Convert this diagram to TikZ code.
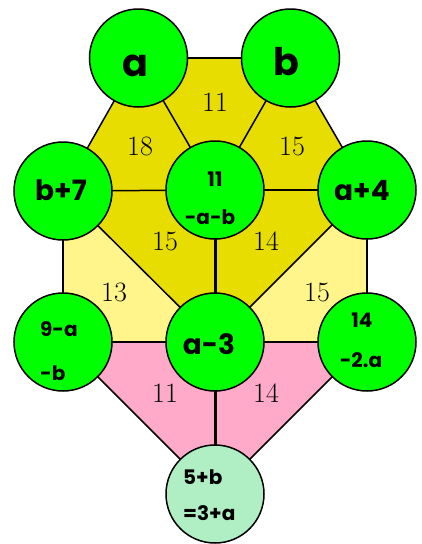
\documentclass[tikz,border=0pt]{standalone}
\usepackage{fontspec}
\newfontfamily\hand{Poppins}
\definecolor{dkyel}{HTML}{E8DD00}
\definecolor{ltyel}{HTML}{FFF58A}
\definecolor{pinkr}{HTML}{FFAAC8}
\definecolor{vgreen}{HTML}{00FF00}
\definecolor{ltgreen}{HTML}{B0EEC4}
\pgfdeclarelayer{bg}
\pgfdeclarelayer{ln}
\pgfsetlayers{bg,ln,main}
\begin{document}
\begin{tikzpicture}[x=1pt,y=-1pt,
  disc/.style={circle,draw=black,line width=1.5pt,fill=vgreen,minimum size=98pt,inner sep=0pt},
  edge/.style={line width=1.5pt},
  bold edge/.style={line width=3pt},
  num/.style={font=\fontsize{28}{30}\selectfont,inner sep=0pt},
  big/.style={font=\hand\bfseries\fontsize{38}{40}\selectfont,inner sep=0pt},
  mid/.style={font=\hand\bfseries\fontsize{28}{30}\selectfont,inner sep=0pt},
  small/.style={font=\hand\bfseries\fontsize{20}{22}\selectfont,inner sep=0pt}]
\useasboundingbox (0,0) rectangle (422,544);
% circles
\node[disc] (A) at (138.5,58) {};
\node[disc] (B) at (290.5,58) {};
\node[disc] (B7) at (63,191) {};
\node[disc] (C) at (215,190) {};
\node[disc] (A4) at (367,190) {};
\node[disc] (L) at (63,342) {};
\node[disc] (M) at (215,342) {};
\node[disc] (R) at (367,342) {};
\node[disc,fill=ltgreen] (D) at (215,494) {};
% regions
\begin{pgfonlayer}{bg}
\fill[dkyel] (A.center)--(B.center)--(C.center)--cycle;
\fill[dkyel] (A.center)--(C.center)--(B7.center)--cycle;
\fill[dkyel] (B.center)--(A4.center)--(C.center)--cycle;
\fill[dkyel] (B7.center)--(C.center)--(M.center)--cycle;
\fill[dkyel] (C.center)--(A4.center)--(M.center)--cycle;
\fill[ltyel] (B7.center)--(M.center)--(L.center)--cycle;
\fill[ltyel] (A4.center)--(R.center)--(M.center)--cycle;
\fill[pinkr] (L.center)--(M.center)--(D.center)--cycle;
\fill[pinkr] (M.center)--(R.center)--(D.center)--cycle;
\end{pgfonlayer}
% connectors
\begin{pgfonlayer}{ln}
\draw[edge] (A.center)--(B.center);
\draw[edge] (A.center)--(C.center);
\draw[edge] (B.center)--(C.center);
\draw[edge] (A.center)--(B7.center);
\draw[edge] (B.center)--(A4.center);
\draw[edge] (B7.center)--(C.center);
\draw[edge] (C.center)--(A4.center);
\draw[edge] (B7.center)--(L.center);
\draw[edge] (A4.center)--(R.center);
\draw[edge] (B7.center)--(M.center);
\draw[edge] (A4.center)--(M.center);
\draw[edge] (L.center)--(M.center);
\draw[edge] (M.center)--(R.center);
\draw[edge] (L.center)--(D.center);
\draw[edge] (R.center)--(D.center);
\draw[bold edge] (C.center)--(M.center);
\draw[bold edge] (M.center)--(D.center);
\end{pgfonlayer}
% region numbers
\node[num] (n1) at (215,102) {11};
\node[num] (n2) at (140,146) {18};
\node[num] (n3) at (292,146) {15};
\node[num] (n4) at (165,241) {15};
\node[num] (n5) at (266,241) {14};
\node[num] (n6) at (114,292) {13};
\node[num] (n7) at (317,292) {15};
\node[num] (n8) at (165,393) {11};
\node[num] (n9) at (266,393) {14};
% circle texts
\node[big] (tA) at (135,66) {a};
\node[big] (tB) at (286,62) {b};
\node[mid] (tB7) at (61,190) {b+7};
\node[small] (tC1) at (215,179) {11};
\node[small] (tC2) at (210,217) {-a-b};
\node[mid] (tA4) at (362,191) {a+4};
\node[small,anchor=west] (tL1) at (40,329) {9-a};
\node[small,anchor=west] (tL2) at (40,373) {-b};
\node[mid] (tM) at (209,344) {a-3};
\node[small] (tR1) at (362,320) {14};
\node[small] (tR2) at (361,360) {-2.a};
\node[small,anchor=west] (tD1) at (183,477) {5+b};
\node[small,anchor=west] (tD2) at (183,513) {=3+a};
\end{tikzpicture}
\end{document}
